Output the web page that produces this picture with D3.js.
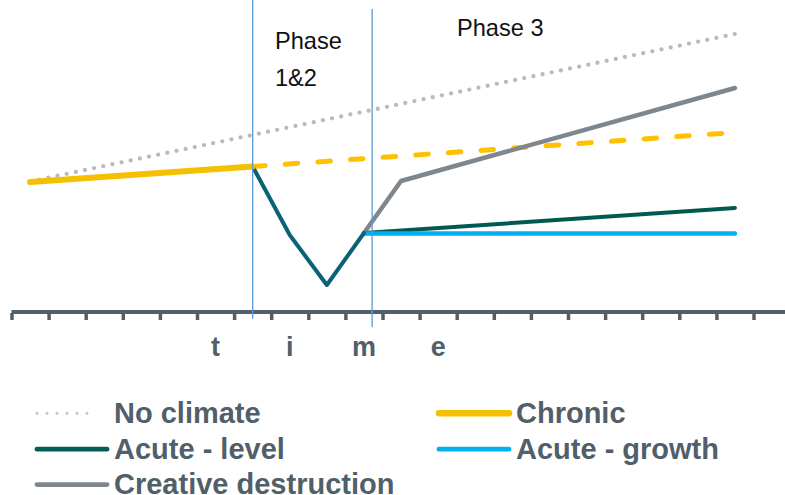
<!DOCTYPE html>
<html>
<head>
<meta charset="utf-8">
<script src="https://cdn.jsdelivr.net/npm/d3@7"></script>
<style>
  body { margin: 0; background: #fff; }
  svg { display: block; }
</style>
</head>
<body>
<script>
// Time periods along the horizontal axis (one band per period)
const periods = [0, 1, 2, 3, 4, 5, 6, 7, 8, 9, 10, 11, 12, 13, 14, 15, 16, 17, 18, 19, 20];

// Scenario paths: [period, output level]
const noClimate           = [[0, 130.5], [19, 278]];
const chronicObserved     = [[0, 130], [6, 145.5]];
const chronicTrend        = [[6, 145.5], [19, 179.5]];
const acuteShock          = [[6, 145.5], [7, 77], [8, 27], [9, 79]];
const acuteLevel          = [[9, 79], [19, 104]];
const acuteGrowth         = [[9, 78.5], [19, 78.5]];
const creativeDestruction = [[9, 79], [10, 131], [19, 224]];

// Phase boundaries (in periods) and their labels
const phaseBreaks = [6, 9.22];
const phaseLabels = [
  { lines: ["Phase", "1&2"] },
  { lines: ["Phase 3"] }
];

// Spaced-out axis title letters and the periods they sit under
const axisLetters = ["t", "i", "m", "e"];
const letterPeriods = [5, 7, 9, 11];

// Legend entries
const legendNames  = ["No climate", "Chronic", "Acute - level", "Acute - growth", "Creative destruction"];
const legendColors = ["#c4c4c4", "#f5c000", "#005e57", "#00b0f0", "#7f878e"];

const W = 785, H = 495;
const axisColor = "#505f69";

const svg = d3.select("body").append("svg")
  .attr("width", W).attr("height", H)
  .attr("viewBox", `0 0 ${W} ${H}`);

const x = d3.scaleLinear()
  .domain([periods[0] - 0.5, periods[periods.length - 1] + 0.5])
  .range([11.5, 790.6]);

const y = d3.scaleLinear().domain([0, 312]).range([312, 0]);

const line = d3.line().x(d => x(d[0])).y(d => y(d[1]));

const plot = svg.append("g");

function drawPath(data, color, width, dash) {
  const p = plot.append("path")
    .datum(data)
    .attr("d", line)
    .attr("fill", "none")
    .attr("stroke", color)
    .attr("stroke-width", width)
    .attr("stroke-linecap", "round")
    .attr("stroke-linejoin", "round");
  if (dash) p.attr("stroke-dasharray", dash);
  return p;
}

drawPath(noClimate, "#bababa", 4.3, "0,9.35");
drawPath(chronicTrend, "#ffc000", 5, "12.5,20.2");
drawPath(creativeDestruction, "#7f878e", 4.5);
drawPath(acuteLevel, "#005a52", 4);
drawPath(acuteGrowth, "#00b0f0", 4.5);
drawPath(acuteShock, "#0a6276", 4);
drawPath(chronicObserved, "#f5c000", 6);

// Horizontal time axis with a tick at every period boundary
const axis = d3.axisBottom(x)
  .tickValues(periods.map(p => p - 0.5).concat([periods[periods.length - 1] + 0.5]))
  .tickSize(8)
  .tickSizeOuter(0)
  .tickFormat("");

const axisG = svg.append("g")
  .attr("transform", `translate(0,${y(0)})`)
  .call(axis);
axisG.select(".domain")
  .attr("stroke", axisColor)
  .attr("stroke-width", 4)
  .attr("d", `M${x.range()[0]},0H${x.range()[1]}`);
axisG.selectAll(".tick line")
  .attr("stroke", axisColor)
  .attr("stroke-width", 3.5)
  .attr("y1", 1);

// Phase boundary rules
const ruleTops = [0, 9], ruleBottoms = [318.7, 327.3];
svg.selectAll("line.phase")
  .data(phaseBreaks)
  .join("line")
  .attr("class", "phase")
  .attr("x1", d => x(d)).attr("x2", d => x(d))
  .attr("y1", (d, i) => ruleTops[i])
  .attr("y2", (d, i) => ruleBottoms[i])
  .attr("stroke", "#5b9bd5")
  .attr("stroke-width", 1.3);

// Phase labels
const labelX = [275, 457];
const labelBaselines = [49, 35.7];
phaseLabels.forEach((lab, i) => {
  const t = svg.append("text")
    .attr("x", labelX[i])
    .attr("y", labelBaselines[i])
    .attr("font-family", "Liberation Sans, Arial, sans-serif")
    .attr("font-size", 23.6)
    .attr("fill", "#111");
  lab.lines.forEach((s, j) => {
    t.append("tspan")
      .attr("x", labelX[i])
      .attr("dy", j === 0 ? 0 : 37)
      .text(s);
  });
});

// Axis title letters
svg.selectAll("text.timeLetter")
  .data(axisLetters)
  .join("text")
  .attr("class", "timeLetter")
  .attr("x", (d, i) => x(letterPeriods[i]))
  .attr("y", 356)
  .attr("text-anchor", "middle")
  .attr("font-family", "Liberation Sans, Arial, sans-serif")
  .attr("font-weight", "bold")
  .attr("font-size", 27)
  .attr("fill", axisColor)
  .text(d => d);

// Legend: two columns, three rows
const legendCols = [37, 439];
const legendRows = [413.3, 449.2, 484.6];
const legend = svg.append("g");
legendNames.forEach((name, i) => {
  const cx = legendCols[i % 2];
  const cy = legendRows[Math.floor(i / 2)];
  const g = legend.append("g");
  const sym = g.append("line")
    .attr("x1", cx).attr("x2", cx + 70)
    .attr("y1", cy).attr("y2", cy)
    .attr("stroke", legendColors[i])
    .attr("stroke-linecap", "round");
  if (i === 0) {
    sym.attr("x2", cx + 60).attr("stroke-width", 3).attr("stroke-dasharray", "0,10");
  } else if (i === 1) {
    sym.attr("stroke-width", 6.5);
  } else {
    sym.attr("stroke-width", 4.8);
  }
  g.append("text")
    .attr("x", cx + 77)
    .attr("y", cy + 9.3)
    .attr("font-family", "Liberation Sans, Arial, sans-serif")
    .attr("font-weight", "bold")
    .attr("font-size", 29)
    .attr("fill", axisColor)
    .text(name);
});
</script>
</body>
</html>
